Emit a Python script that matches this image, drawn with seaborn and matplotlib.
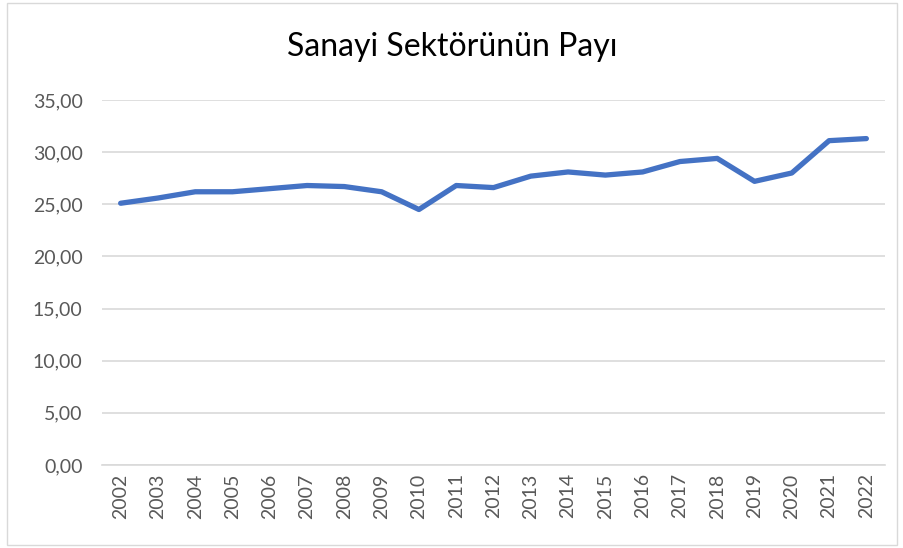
import matplotlib
matplotlib.use("Agg")
import matplotlib.pyplot as plt
import matplotlib.patches as mpatches
from matplotlib.ticker import FuncFormatter, MultipleLocator
import pandas as pd
import seaborn as sns

years = [str(y) for y in range(2002, 2023)]
share = [25.1, 25.6, 26.2, 26.2, 26.5, 26.8, 26.7, 26.2, 24.5, 26.8, 26.6,
         27.7, 28.1, 27.8, 28.1, 29.1, 29.4, 27.2, 28.0, 31.1, 31.3]

df = pd.DataFrame({"year": years, "share": share})

sns.set_theme(style="white")
plt.rcParams["font.family"] = ["Lato", "DejaVu Sans"]

fig = plt.figure(figsize=(9.04, 5.48), dpi=100)
ax = fig.add_axes([102 / 904, 1 - 465 / 548, (885 - 102) / 904, (465 - 100) / 548])

sns.lineplot(data=df, x="year", y="share", ax=ax, color="#4472C4", linewidth=3.8,
             solid_capstyle="round", solid_joinstyle="round")

ax.set_xlim(-0.5, len(years) - 0.5)
ax.set_ylim(0, 35)
ax.yaxis.set_major_locator(MultipleLocator(5))
ax.yaxis.set_major_formatter(FuncFormatter(lambda v, p: f"{v:.2f}".replace(".", ",")))
ax.grid(axis="y", color="#d9d9d9", linewidth=1.2)
ax.set_axisbelow(True)
for s in ["top", "right", "left"]:
    ax.spines[s].set_visible(False)
ax.spines["bottom"].set_color("#d9d9d9")
ax.spines["bottom"].set_linewidth(1.2)
ax.tick_params(axis="x", rotation=90, labelsize=14, colors="#595959", length=0, pad=6)
ax.tick_params(axis="y", labelsize=14, colors="#595959", length=0, pad=14)
ax.set_xlabel("")
ax.set_ylabel("")

fig.text(0.5, 1 - 47 / 548, "Sanayi Sektörünün Payı", ha="center", va="center",
         fontsize=23, color="black")

fig.patches.append(mpatches.Rectangle((7 / 904, 3 / 548), 890 / 904, 542 / 548,
                                      transform=fig.transFigure, fill=False,
                                      edgecolor="#d9d9d9", linewidth=1))

plt.savefig("out.png", dpi=100)
plt.close()
